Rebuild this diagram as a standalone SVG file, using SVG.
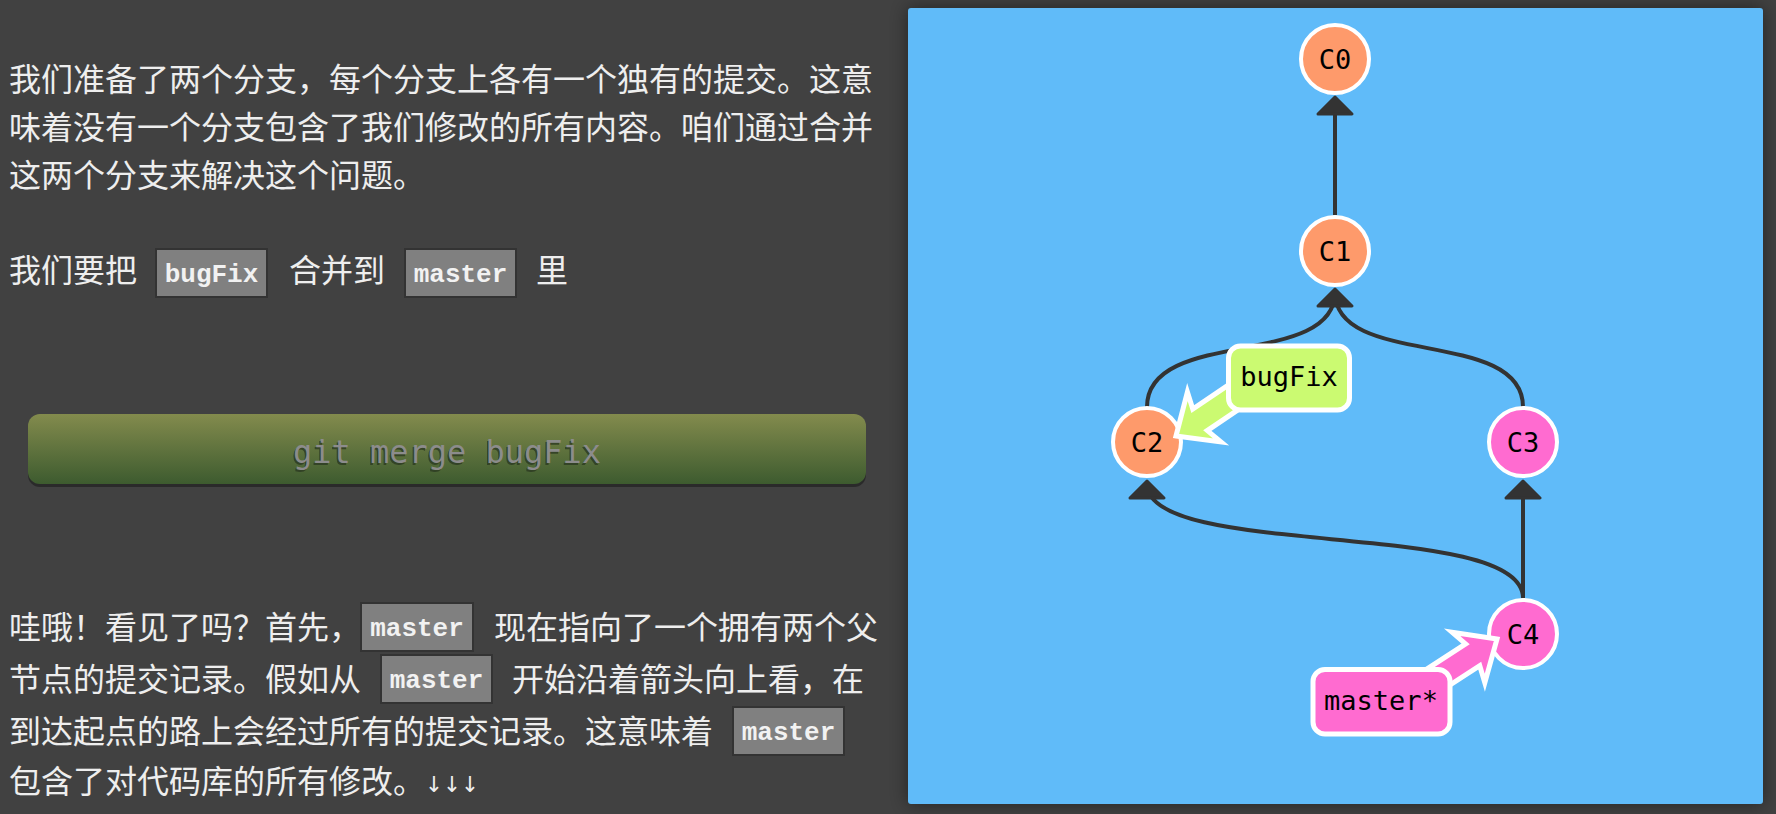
<svg xmlns="http://www.w3.org/2000/svg" width="1776" height="814" viewBox="0 0 1776 814">
<style>
.cn{font-family:"Noto Sans CJK SC","Noto Sans",sans-serif;font-size:32px;fill:#eeeeee}
.box{fill:#808080;stroke:#333333;stroke-width:2}
.bt{font-family:"Liberation Mono",monospace;font-weight:bold;font-size:26px;fill:#f2f2f2;text-anchor:middle}
.edge{fill:none;stroke:#333333;stroke-width:4}
.head{fill:#333333;stroke:#333333;stroke-width:3;stroke-linejoin:round}
.commit{stroke:#ffffff;stroke-width:4}
.ct{font-family:"DejaVu Sans Mono",monospace;font-size:27px;fill:#000000;text-anchor:middle}
.lbl{stroke:#ffffff;stroke-width:5;stroke-linejoin:miter}
</style>
<defs>
<linearGradient id="btn" x1="0" y1="0" x2="0" y2="1">
<stop offset="0" stop-color="#838b4d"/>
<stop offset="1" stop-color="#3d5b2f"/>
</linearGradient>
<filter id="sh" x="-10%" y="-10%" width="120%" height="120%">
<feGaussianBlur stdDeviation="9"/>
</filter>
</defs>
<rect x="0" y="0" width="1776" height="814" fill="#414141"/>
<rect x="908" y="8" width="855" height="796" fill="#000000" opacity="0.45" filter="url(#sh)"/>
<rect x="908" y="8" width="855" height="796" rx="3" fill="#60bbf9"/>

<g id="text-top">
<text class="cn" x="9" y="91">我们准备了两个分支，每个分支上各有一个独有的提交。这意</text>
<text class="cn" x="9" y="139">味着没有一个分支包含了我们修改的所有内容。咱们通过合并</text>
<text class="cn" x="9" y="187">这两个分支来解决这个问题。</text>
<text class="cn" x="9" y="282">我们要把</text>
<rect class="box" x="156" y="249" width="111" height="48"/>
<text class="bt" x="211.5" y="282">bugFix</text>
<text class="cn" x="289" y="282">合并到</text>
<rect class="box" x="405" y="249" width="111" height="48"/>
<text class="bt" x="460.5" y="282">master</text>
<text class="cn" x="536" y="282">里</text>
</g>

<g id="button">
<rect x="28" y="416" width="838" height="71" rx="12" fill="#2a2a2a"/>
<rect x="28" y="414" width="838" height="70" rx="12" fill="url(#btn)"/>
<text x="445.5" y="465" font-family="DejaVu Sans Mono,monospace" font-size="32" fill="#2c3a22" text-anchor="middle" opacity="0.8">git merge bugFix</text>
<text x="447" y="463" font-family="DejaVu Sans Mono,monospace" font-size="32" fill="#8c8c8c" text-anchor="middle">git merge bugFix</text>
</g>

<g id="text-bottom">
<text class="cn" x="9" y="639">哇哦！看见了吗？首先，</text>
<rect class="box" x="361" y="603" width="112" height="48"/>
<text class="bt" x="417" y="636">master</text>
<text class="cn" x="494" y="639">现在指向了一个拥有两个父</text>
<text class="cn" x="9" y="691">节点的提交记录。假如从</text>
<rect class="box" x="381" y="655" width="111" height="48"/>
<text class="bt" x="436.5" y="688">master</text>
<text class="cn" x="512" y="691">开始沿着箭头向上看，在</text>
<text class="cn" x="9" y="743">到达起点的路上会经过所有的提交记录。这意味着</text>
<rect class="box" x="733" y="707" width="111" height="48"/>
<text class="bt" x="788.5" y="740">master</text>
<text class="cn" x="9" y="793">包含了对代码库的所有修改。</text>
<text x="425" y="792" font-family="DejaVu Sans,sans-serif" font-size="22" fill="#eeeeee" textLength="54" lengthAdjust="spacingAndGlyphs">↓↓↓</text>
</g>

<g id="connectors">
<path class="edge" d="M1335,215 L1335,100"/>
<path class="head" d="M1335,97 L1352,114 L1318,114 Z"/>
<path class="edge" d="M1147,407 C1147,327 1335,369 1335,292"/>
<path class="edge" d="M1523,407 C1523,327 1335,369 1335,292"/>
<path class="head" d="M1335,289 L1352,306 L1318,306 Z"/>
<path class="edge" d="M1523,598 C1523,518 1147,560 1147,484"/>
<path class="head" d="M1147,481 L1164,498 L1130,498 Z"/>
<path class="edge" d="M1523,598 L1523,484"/>
<path class="head" d="M1523,481 L1540,498 L1506,498 Z"/>
</g>

<g id="C0"><circle class="commit" cx="1335" cy="59" r="34" fill="#fe9a6b"/><text class="ct" x="1335" y="69">C0</text></g>
<g id="C1"><circle class="commit" cx="1335" cy="251" r="34" fill="#fe9a6b"/><text class="ct" x="1335" y="261">C1</text></g>
<g id="C2"><circle class="commit" cx="1147" cy="442" r="34" fill="#fe9a6b"/><text class="ct" x="1147" y="452">C2</text></g>
<g id="C3"><circle class="commit" cx="1523" cy="442" r="34" fill="#ff6bd0"/><text class="ct" x="1523" y="452">C3</text></g>
<g id="C4"><circle class="commit" cx="1523" cy="634" r="34" fill="#ff6bd0"/><text class="ct" x="1523" y="644">C4</text></g>

<g id="bugFix">
<polygon class="lbl" fill="#cbfa71" transform="translate(1176,436) rotate(146)" points="0,0 -34,-30 -29,-13 -100,-13 -100,13 -29,13 -34,30"/>
<rect class="lbl" x="1228.5" y="346" width="121" height="64" rx="12" fill="#cbfa71"/>
<text class="ct" x="1289" y="386">bugFix</text>
</g>

<g id="master">
<polygon class="lbl" fill="#ff6bd0" transform="translate(1497,639) rotate(-33)" points="0,0 -34,-30 -29,-13 -100,-13 -100,13 -29,13 -34,30"/>
<rect class="lbl" x="1313" y="669.5" width="137" height="64.5" rx="12" fill="#ff6bd0"/>
<text class="ct" x="1381" y="710">master*</text>
</g>
</svg>
